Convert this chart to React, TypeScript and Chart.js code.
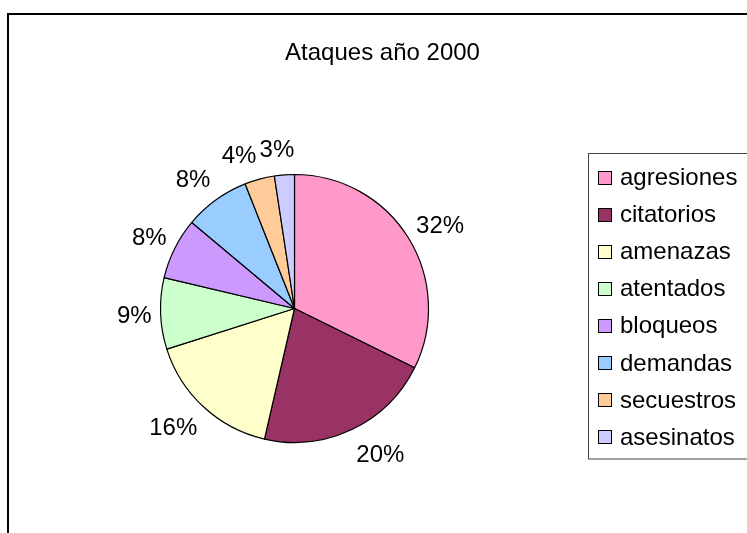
import React, { useEffect, useRef } from "react";
import { Chart, registerables } from "chart.js";

Chart.register(...registerables);

// ---- data ----
const chartTitle = "Ataques año 2000";
const categories = [
  "agresiones",
  "citatorios",
  "amenazas",
  "atentados",
  "bloqueos",
  "demandas",
  "secuestros",
  "asesinatos",
];
// slice shares (percent of the pie, measured from the slice angles)
const shares = [32.3, 21.3, 16.5, 8.6, 7.4, 7.9, 3.6, 2.4];
// data labels as printed on the chart
const percentLabels = ["32%", "20%", "16%", "9%", "8%", "8%", "4%", "3%"];
const sliceColors = [
  "#FF99CC",
  "#993366",
  "#FFFFCC",
  "#CCFFCC",
  "#CC99FF",
  "#99CCFF",
  "#FFCC99",
  "#CCCCFF",
];

const FONT = '24px "Liberation Sans", Arial, sans-serif';
const W = 747;
const H = 533;

const clamp = (v: number) => Math.max(-1, Math.min(1, v));

const decorPlugin = {
  id: "excelDecor",
  afterDraw(chart: any) {
    const ctx = chart.ctx as CanvasRenderingContext2D;
    const meta = chart.getDatasetMeta(0);
    ctx.save();

    // outer frame
    const frameL = 8;
    const frameT = 14;
    const frameR = 757;
    ctx.strokeStyle = "#000";
    ctx.lineWidth = 2;
    ctx.beginPath();
    ctx.rect(frameL, frameT, frameR - frameL, H + 20);
    ctx.stroke();

    // title
    ctx.font = FONT;
    ctx.fillStyle = "#000";
    ctx.textAlign = "center";
    ctx.textBaseline = "alphabetic";
    ctx.fillText(chartTitle, (frameL + frameR) / 2, 60);

    // data labels outside the slices (Excel "outside end" style)
    const capH = 17;
    const gap = 8;
    const halfBox = 18;
    meta.data.forEach((arc: any, i: number) => {
      const p = arc.getProps(["x", "y", "startAngle", "endAngle", "outerRadius"], true);
      const mid = (p.startAngle + p.endAngle) / 2;
      const ux = Math.cos(mid);
      const uy = Math.sin(mid);
      const text = percentLabels[i];
      const w = ctx.measureText(text).width;
      const ax = p.x + (p.outerRadius + gap) * ux;
      const ay = p.y + (p.outerRadius + gap) * uy;
      const cx = ax + clamp(ux * 5) * (w / 2 + 1);
      const cy = ay + uy * halfBox;
      ctx.textAlign = "center";
      ctx.fillText(text, cx, cy + capH / 2);
    });

    // legend box
    const legL = 588.5;
    const legT = 153.5;
    const legB = 459;
    ctx.strokeStyle = "#444";
    ctx.lineWidth = 1;
    ctx.strokeRect(legL, legT, W + 20 - legL, legB - legT);

    const rowH = 37.1;
    const firstRow = 177.5;
    ctx.textAlign = "left";
    categories.forEach((c, i) => {
      const cy = firstRow + i * rowH;
      ctx.fillStyle = sliceColors[i];
      ctx.fillRect(598, Math.round(cy - 7), 14, 14);
      ctx.strokeStyle = "#000";
      ctx.lineWidth = 1;
      ctx.strokeRect(598.5, Math.round(cy - 7) + 0.5, 13, 13);
      ctx.fillStyle = "#000";
      ctx.fillText(c, 620, cy + 7.5);
    });

    ctx.restore();
  },
};

export default function App() {
  const ref = useRef<HTMLCanvasElement | null>(null);
  useEffect(() => {
    if (!ref.current) return;
    const chart = new Chart(ref.current, {
      type: "pie",
      data: {
        labels: categories,
        datasets: [
          {
            data: shares,
            backgroundColor: sliceColors,
            borderColor: "#000",
            borderWidth: 1.2,
          },
        ],
      },
      options: {
        responsive: false,
        animation: false,
        devicePixelRatio: 1,
        radius: 134,
        layout: { padding: { left: 0, right: 158, top: 84, bottom: 0 } },
        plugins: {
          legend: { display: false },
          title: { display: false },
          tooltip: { enabled: false },
        },
        events: [],
      } as any,
      plugins: [decorPlugin],
    });
    return () => chart.destroy();
  }, []);
  return (
    <canvas
      ref={ref}
      width={W}
      height={H}
      style={{ position: "fixed", left: 0, top: 0, display: "block", background: "#fff" }}
    />
  );
}
